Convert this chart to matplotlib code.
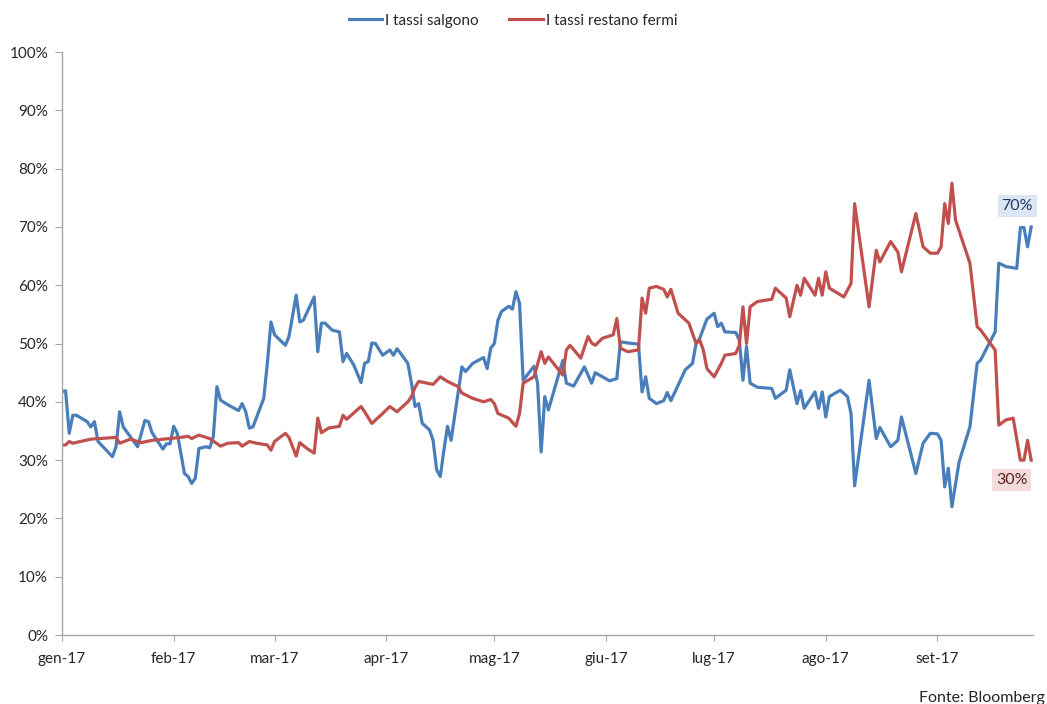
import matplotlib
matplotlib.use("Agg")
import matplotlib.pyplot as plt
from matplotlib.ticker import FuncFormatter
import pandas as pd

# Series (percent)
blue_dates = [
    "01-01", "01-02", "01-03", "01-04", "01-05", "01-08", "01-09", "01-10", "01-11",
    "01-15", "01-16", "01-17", "01-18", "01-22", "01-24", "01-25", "01-26", "01-29",
    "01-30", "01-31", "02-01", "02-02", "02-04", "02-05", "02-06", "02-07", "02-08",
    "02-10", "02-11", "02-12", "02-13", "02-14", "02-16", "02-19", "02-20", "02-21",
    "02-22", "02-23", "02-26", "02-27", "02-28", "03-01", "03-04", "03-05", "03-07",
    "03-08", "03-09", "03-12", "03-13", "03-14", "03-15", "03-17", "03-19", "03-20",
    "03-21", "03-23", "03-25", "03-26", "03-27", "03-28", "03-29", "03-31", "04-02",
    "04-03", "04-04", "04-05", "04-07", "04-08", "04-09", "04-10", "04-11", "04-13",
    "04-14", "04-15", "04-16", "04-17", "04-18", "04-19", "04-22", "04-23", "04-25",
    "04-28", "04-29", "04-30", "05-01", "05-02", "05-03", "05-05", "05-06", "05-07",
    "05-08", "05-09", "05-12", "05-13", "05-14", "05-15", "05-16", "05-20", "05-21",
    "05-23", "05-26", "05-28", "05-29", "06-02", "06-04", "06-05", "06-07", "06-10",
    "06-11", "06-12", "06-13", "06-15", "06-17", "06-18", "06-19", "06-23", "06-25",
    "06-26", "06-27", "06-29", "07-01", "07-02", "07-03", "07-04", "07-07", "07-08",
    "07-09", "07-10", "07-11", "07-13", "07-17", "07-18", "07-21", "07-22", "07-24",
    "07-25", "07-26", "07-29", "07-30", "07-31", "08-01", "08-02", "08-05", "08-07",
    "08-08", "08-09", "08-13", "08-15", "08-16", "08-19", "08-21", "08-22", "08-26",
    "08-28", "08-30", "09-01", "09-02", "09-03", "09-04", "09-05", "09-07", "09-10",
    "09-12", "09-13", "09-17", "09-18", "09-20", "09-23", "09-24", "09-25", "09-26",
    "09-27",
]
blue_values = [
    41.7, 41.9, 34.6, 37.7, 37.7, 36.6, 35.7, 36.6, 33.2,
    30.6, 32.3, 38.3, 35.7, 32.3, 36.8, 36.6, 34.7, 31.9,
    32.8, 32.8, 35.8, 34.6, 27.7, 27.2, 26.0, 26.9, 32.0,
    32.3, 32.1, 34.0, 42.6, 40.3, 39.5, 38.5, 39.7, 38.3,
    35.5, 35.7, 40.6, 46.6, 53.7, 51.5, 49.7, 51.2, 58.3,
    53.7, 54.0, 58.0, 48.6, 53.5, 53.5, 52.3, 52.0, 46.9,
    48.3, 46.3, 43.3, 46.6, 46.9, 50.1, 50.0, 48.0, 48.9,
    48.0, 49.1, 48.3, 46.6, 43.2, 39.2, 39.7, 36.3, 35.2,
    33.4, 28.3, 27.2, 31.7, 35.8, 33.4, 46.0, 45.2, 46.6,
    47.6, 45.7, 49.2, 50.0, 54.0, 55.5, 56.4, 55.9, 58.9,
    56.9, 43.7, 46.1, 43.2, 31.4, 40.9, 38.6, 47.1, 43.2,
    42.7, 46.0, 43.2, 45.0, 43.6, 44.0, 50.3, 50.1, 49.9,
    41.7, 44.3, 40.6, 39.7, 40.2, 41.6, 40.2, 45.5, 46.6,
    50.0, 50.9, 54.2, 55.2, 52.9, 53.5, 52.0, 51.9, 50.6,
    43.7, 49.5, 43.2, 42.5, 42.3, 40.6, 42.0, 45.5, 39.7,
    41.9, 38.9, 41.7, 38.9, 41.7, 37.4, 40.9, 42.0, 40.9,
    38.0, 25.6, 43.7, 33.7, 35.6, 32.3, 33.4, 37.4, 27.7,
    32.9, 34.6, 34.5, 33.4, 25.4, 28.6, 22.0, 29.7, 35.7,
    46.6, 47.2, 52.0, 63.8, 63.2, 62.9, 69.9, 69.9, 66.6,
    70.0,
]

red_dates = [
    "01-01", "01-02", "01-03", "01-04", "01-09", "01-16", "01-17", "01-20", "01-23",
    "01-26", "02-03", "02-05", "02-06", "02-08", "02-11", "02-14", "02-16", "02-19",
    "02-20", "02-22", "02-24", "02-27", "02-28", "03-01", "03-04", "03-05", "03-07",
    "03-08", "03-10", "03-12", "03-13", "03-14", "03-16", "03-19", "03-20", "03-21",
    "03-25", "03-26", "03-28", "03-31", "04-02", "04-04", "04-07", "04-08", "04-09",
    "04-10", "04-14", "04-16", "04-18", "04-21", "04-22", "04-25", "04-28", "04-30",
    "05-01", "05-02", "05-05", "05-07", "05-08", "05-09", "05-12", "05-14", "05-15",
    "05-16", "05-20", "05-21", "05-22", "05-25", "05-27", "05-28", "05-29", "05-31",
    "06-03", "06-04", "06-05", "06-07", "06-10", "06-11", "06-12", "06-13", "06-15",
    "06-17", "06-18", "06-19", "06-21", "06-24", "06-26", "06-27", "06-28", "06-29",
    "07-01", "07-03", "07-04", "07-07", "07-08", "07-09", "07-10", "07-11", "07-13",
    "07-17", "07-18", "07-21", "07-22", "07-24", "07-25", "07-26", "07-29", "07-30",
    "07-31", "08-01", "08-02", "08-06", "08-08", "08-09", "08-13", "08-15", "08-16",
    "08-19", "08-21", "08-22", "08-26", "08-28", "08-30", "09-01", "09-02", "09-03",
    "09-04", "09-05", "09-06", "09-10", "09-12", "09-13", "09-17", "09-18", "09-20",
    "09-22", "09-24", "09-25", "09-26", "09-27",
]
red_values = [
    32.6, 32.6, 33.2, 32.9, 33.6, 33.9, 32.9, 33.6, 33.0,
    33.4, 33.9, 34.1, 33.7, 34.3, 33.7, 32.4, 32.9, 33.0,
    32.4, 33.2, 32.9, 32.6, 31.7, 33.2, 34.6, 33.9, 30.7,
    33.0, 32.0, 31.2, 37.2, 34.7, 35.5, 35.8, 37.7, 37.0,
    39.2, 38.3, 36.3, 38.0, 39.2, 38.3, 40.0, 40.9, 42.5,
    43.5, 43.0, 44.3, 43.5, 42.6, 41.5, 40.6, 40.0, 40.4,
    39.7, 38.0, 37.2, 35.8, 38.0, 43.2, 44.3, 48.6, 46.6,
    47.7, 44.6, 48.9, 49.7, 47.5, 51.2, 50.1, 49.7, 50.9,
    51.5, 54.3, 49.2, 48.6, 48.9, 57.8, 55.2, 59.5, 59.8,
    59.3, 58.0, 59.3, 55.2, 53.5, 50.0, 50.6, 48.9, 45.7,
    44.3, 46.6, 48.0, 48.3, 49.7, 56.3, 50.0, 56.3, 57.2,
    57.6, 59.5, 57.8, 54.6, 60.0, 58.3, 61.2, 58.3, 61.2,
    58.3, 62.3, 59.5, 58.0, 60.3, 74.0, 56.3, 66.0, 64.0,
    67.5, 65.7, 62.3, 72.3, 66.6, 65.5, 65.5, 66.6, 74.0,
    70.6, 77.5, 71.2, 63.8, 52.9, 52.3, 48.9, 36.0, 36.9,
    37.2, 30.0, 30.0, 33.4, 30.0,
]

month_ticks = ["2017-01-01", "2017-02-01", "2017-03-01", "2017-04-01", "2017-05-01",
               "2017-06-01", "2017-07-01", "2017-08-01", "2017-09-01"]
month_labels = ["gen-17", "feb-17", "mar-17", "apr-17", "mag-17",
                "giu-17", "lug-17", "ago-17", "set-17"]

BLUE = "#4a7ebb"
RED = "#c0504d"
AXIS = "#a6a6a6"
TXT = "#262626"

plt.rcParams['font.family'] = ['Lato', 'DejaVu Sans']

blue_x = pd.to_datetime(["2017-" + d for d in blue_dates])
red_x = pd.to_datetime(["2017-" + d for d in red_dates])

fig = plt.figure(figsize=(10.47, 7.04), dpi=100)
ax = fig.add_axes([0.0592, 0.098, 0.9274, 0.828])

ax.plot(blue_x, blue_values, color=BLUE, lw=2.3, solid_joinstyle="round",
        label="I tassi salgono")
ax.plot(red_x, red_values, color=RED, lw=2.3, solid_joinstyle="round",
        label="I tassi restano fermi")

ax.set_ylim(0, 100)
ax.set_yticks(range(0, 101, 10))
ax.yaxis.set_major_formatter(FuncFormatter(lambda v, p: f"{int(v)}%"))
ax.set_xlim(pd.Timestamp("2017-01-01"), pd.Timestamp("2017-09-27 12:00"))
ax.set_xticks(pd.to_datetime(month_ticks))
ax.set_xticklabels(month_labels)

for s in ["top", "right"]:
    ax.spines[s].set_visible(False)
for s in ["left", "bottom"]:
    ax.spines[s].set_color(AXIS)
    ax.spines[s].set_linewidth(1)
ax.tick_params(axis="y", length=5, color=AXIS, labelsize=11, labelcolor=TXT, pad=5)
ax.tick_params(axis="x", length=4, color=AXIS, labelsize=11, labelcolor=TXT, pad=8)

# end labels
ax.annotate("70%", xy=(blue_x[-1], blue_values[-1]), xytext=(-10, 15),
            textcoords="offset points", ha="center", va="center",
            fontsize=11.5, color="#1f3a60",
            bbox=dict(boxstyle="square,pad=0.25", fc="#dce6f2", ec="none"))
ax.annotate("30%", xy=(red_x[-1], red_values[-1]), xytext=(-14, -14),
            textcoords="offset points", ha="center", va="center",
            fontsize=11.5, color="#5a1e1c",
            bbox=dict(boxstyle="square,pad=0.25", fc="#f2dcdb", ec="none"))

fig.legend(loc="upper center", bbox_to_anchor=(0.49, 1.0), ncol=2, frameon=False,
           fontsize=11, handlelength=2.2, handletextpad=0.2, columnspacing=2.0,
           labelcolor=TXT)

fig.text(0.998, -0.002, "Fonte: Bloomberg", ha="right", va="bottom", fontsize=11.5, color=TXT)

fig.savefig("out.png", dpi=100)
